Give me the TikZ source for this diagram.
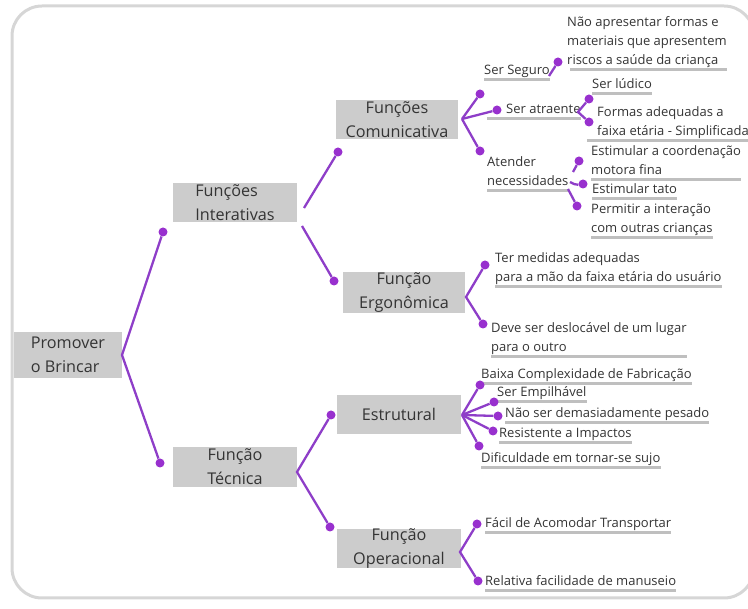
\documentclass[tikz,border=0pt]{standalone}
\usepackage{fontspec}
\setmainfont{Open Sans}
\definecolor{boxgray}{RGB}{204,204,204}
\definecolor{lilac}{RGB}{142,62,200}
\definecolor{dotpurple}{RGB}{152,48,206}
\definecolor{inkgray}{RGB}{52,52,52}
\definecolor{linegray}{RGB}{191,191,191}
\definecolor{framegray}{RGB}{214,214,214}

\begin{document}
\begin{tikzpicture}[
  x=1pt,
  y=-1pt,
  topic/.style={
    fill=boxgray,
    text=inkgray,
    align=center,
    inner sep=0pt,
    font=\fontsize{16.2}{24}\selectfont
  },
  leaf/.style={
    text=inkgray,
    align=left,
    anchor=south west,
    inner sep=0pt,
    font=\fontsize{13}{19}\selectfont
  },
  dot/.style={circle,fill=dotpurple,inner sep=0pt,minimum size=9pt},
  link/.style={draw=lilac,line width=2.3pt},
  uline/.style={draw=linegray,line width=3pt}
]
\clip (0,0) rectangle (748,609);
\draw[framegray,line width=3pt,rounded corners=30pt] (12,6) rectangle (754,598);

% boxes
\node[topic,align=left,minimum width=108pt,minimum height=46pt]
  (root) at (68,355) {Promover\\o Brincar};
\node[topic,align=left,minimum width=124pt,minimum height=39pt]
  (inter) at (235,202.5) {Funções\\Interativas};
\node[topic,minimum width=124pt,minimum height=40pt]
  (tec) at (235,467) {Função\\Técnica};
\node[topic,minimum width=122pt,minimum height=39pt]
  (com) at (397,119.5) {Funções\\Comunicativa};
\node[topic,minimum width=122pt,minimum height=41pt]
  (ergo) at (404,292.5) {Função\\Ergonômica};
\node[topic,minimum width=124pt,minimum height=39pt]
  (estr) at (399,414.5) {Estrutural};
\node[topic,minimum width=124pt,minimum height=39pt]
  (oper) at (399,548.5) {Função\\Operacional};

% leaves
\node[leaf] (lris) at (567,70)
  {Não apresentar formas e\\materiais que apresentem\\riscos a saúde da criança\strut};
\node[leaf] (lseg) at (484,80) {Ser Seguro\strut};
\node[leaf] (llud) at (592,94) {Ser lúdico\strut};
\node[leaf] (latr) at (506,119) {Ser atraente\strut};
\node[leaf] (lfor) at (597,141)
  {Formas adequadas a\\faixa etária - Simplificada\strut};
\node[leaf] (lnec) at (487,191) {Atender\\necessidades\strut};
\node[leaf] (lcoo) at (591,180) {Estimular a coordenação\\motora fina\strut};
\node[leaf] (ltat) at (592,199) {Estimular tato\strut};
\node[leaf] (lint) at (591,238) {Permitir a interação\\com outras crianças\strut};
\node[leaf] (lmed) at (495,287)
  {Ter medidas adequadas\\para a mão da faixa etária do usuário\strut};
\node[leaf] (ldes) at (491,357) {Deve ser deslocável de um lugar\\para o outro\strut};
\node[leaf] (lbai) at (481,384) {Baixa Complexidade de Fabricação\strut};
\node[leaf] (lemp) at (497,402) {Ser Empilhável\strut};
\node[leaf] (lpes) at (505,423) {Não ser demasiadamente pesado\strut};
\node[leaf] (limp) at (499,443) {Resistente a Impactos\strut};
\node[leaf] (lsuj) at (481,468) {Dificuldade em tornar-se sujo\strut};
\node[leaf] (lfac) at (485,533) {Fácil de Acomodar Transportar\strut};
\node[leaf] (lrel) at (485,591) {Relativa facilidade de manuseio\strut};

% underlines
\draw[uline] ([xshift=3pt]lris.south west) -- (lris.south east);
\draw[uline] (lseg.south west) -- (lseg.south east);
\draw[uline] (llud.south west) -- (llud.south east);
\draw[uline] ([xshift=-19pt]latr.south west) -- (latr.south east);
\draw[uline] ([xshift=-10pt]lfor.south west) -- (lfor.south east);
\draw[uline] (lnec.south west) -- (lnec.south east);
\draw[uline] (lcoo.south west) -- (lcoo.south east);
\draw[uline] (ltat.south west) -- (ltat.south east);
\draw[uline] (lint.south west) -- (lint.south east);
\draw[uline] (lmed.south west) -- (lmed.south east);
\draw[uline] (ldes.south west) -- (ldes.south east);
\draw[uline] (lbai.south west) -- (lbai.south east);
\draw[uline] ([xshift=-6pt]lemp.south west) -- (lemp.south east);
\draw[uline] (lpes.south west) -- (lpes.south east);
\draw[uline] (limp.south west) -- (limp.south east);
\draw[uline] (lsuj.south west) -- (lsuj.south east);
\draw[uline] (lfac.south west) -- (lfac.south east);
\draw[uline] (lrel.south west) -- (lrel.south east);

% junctions
\coordinate (jroot) at (122,355);
\coordinate (jinter1) at (304,208);
\coordinate (jinter2) at (302,226);
\coordinate (jtec) at (297,472);
\coordinate (jcom) at (462,119);
\coordinate (jseg) at (549,76);
\coordinate (jatr) at (578,112);
\coordinate (jnec1) at (573,172);
\coordinate (jnec2) at (570,182);
\coordinate (jnec3) at (568,189);
\coordinate (jergo) at (466,297);
\coordinate (jestr) at (462,415);
\coordinate (joper) at (460,552);

% dots
\node[dot] (dinter) at (163,232) {};
\node[dot] (dtec) at (160,463) {};
\node[dot] (dcom) at (338,152) {};
\node[dot] (dergo) at (334,281) {};
\node[dot] (destr) at (331,415) {};
\node[dot] (doper) at (330,527) {};
\node[dot] (dseg) at (480,94) {};
\node[dot] (datr) at (497,110) {};
\node[dot] (dnec) at (480,151) {};
\node[dot] (dris) at (558,62) {};
\node[dot] (dlud) at (589,99) {};
\node[dot] (dfor) at (589,122) {};
\node[dot] (dcoo) at (579,161) {};
\node[dot] (dtat) at (583,184) {};
\node[dot] (dint) at (577,206) {};
\node[dot] (dmed) at (485,265) {};
\node[dot] (ddes) at (483,324) {};
\node[dot] (dbai) at (480,385) {};
\node[dot] (demp) at (494,402) {};
\node[dot] (dpes) at (498,416) {};
\node[dot] (dimp) at (493,431) {};
\node[dot] (dsuj) at (479,446) {};
\node[dot] (dfac) at (477,524) {};
\node[dot] (drel) at (478,581) {};

% links
\draw[link] (dinter) -- (jroot) -- (dtec);
\draw[link] (jinter1) -- (dcom);
\draw[link] (jinter2) -- (dergo);
\draw[link] (destr) -- (jtec) -- (doper);
\draw[link] (jcom) -- (dseg);
\draw[link] (jcom) -- (datr);
\draw[link] (jcom) -- (dnec);
\draw[link] (jseg) -- (dris);
\draw[link] (dlud) -- (jatr) -- (dfor);
\draw[link] (jnec1) -- (dcoo);
\draw[link] (jnec2) to[out=-20,in=190] (dtat);
\draw[link] (jnec3) -- (dint);
\draw[link] (dmed) -- (jergo) -- (ddes);
\draw[link] (jestr) -- (dbai);
\draw[link] (jestr) -- (demp);
\draw[link] (jestr) -- (dpes);
\draw[link] (jestr) -- (dimp);
\draw[link] (jestr) -- (dsuj);
\draw[link] (dfac) -- (joper) -- (drel);
\end{tikzpicture}
\end{document}
